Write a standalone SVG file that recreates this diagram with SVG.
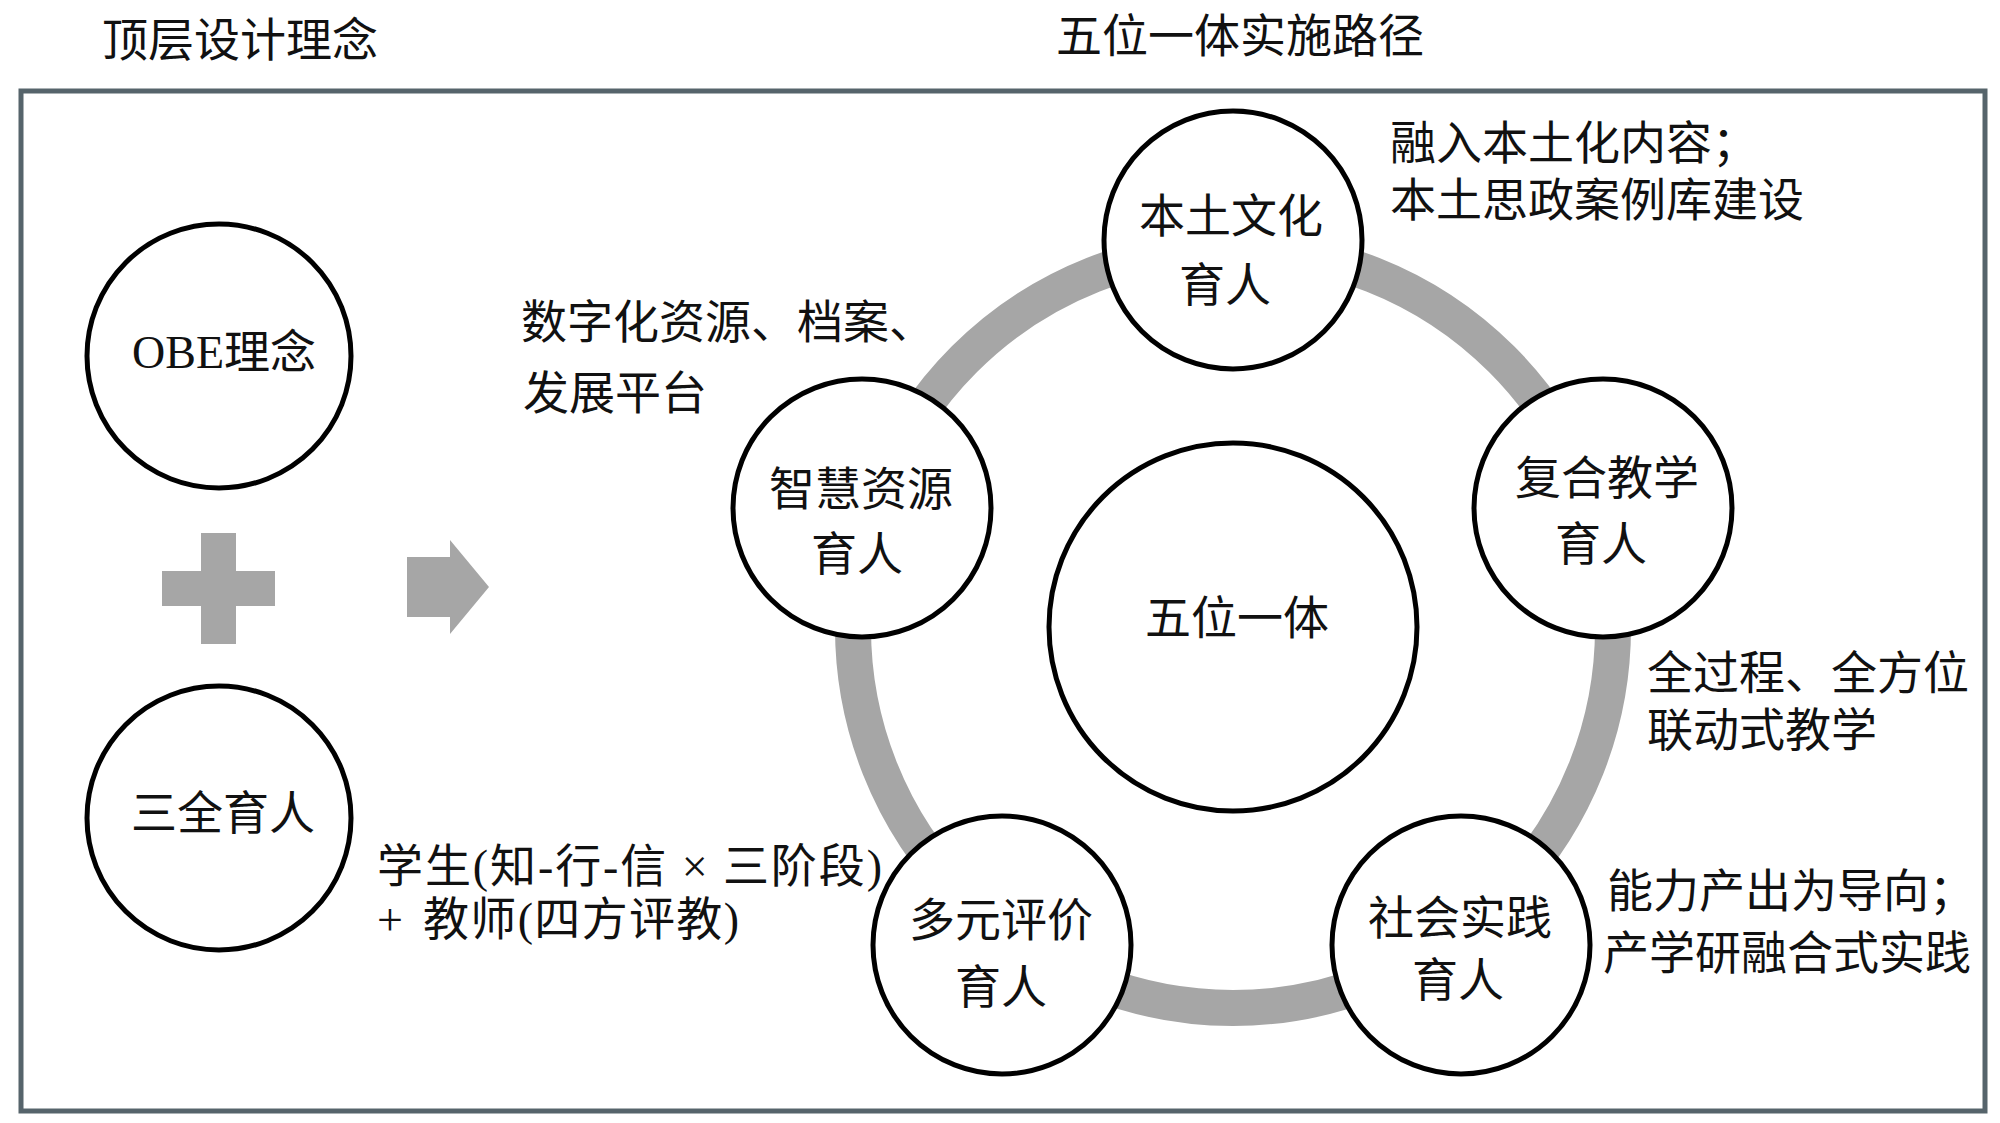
<svg xmlns="http://www.w3.org/2000/svg" width="2000" height="1123" viewBox="0 0 2000 1123">
<style>
  text { font-family: "Liberation Serif", "Noto Sans CJK SC", serif; font-size: 46px; fill: #111; }
  .mid { text-anchor: middle; }
  .node { fill: #ffffff; stroke: #000000; stroke-width: 5; }
  .shape { fill: #a6a6a6; }
  .ring { fill: none; stroke: #a6a6a6; stroke-width: 36; }
</style>
<rect x="0" y="0" width="2000" height="1123" fill="#ffffff"/>
<g id="titles">
  <text x="102" y="56">顶层设计理念</text>
  <text x="1056" y="52">五位一体实施路径</text>
</g>
<rect id="frame" x="21" y="91" width="1964" height="1020" fill="none" stroke="#56646b" stroke-width="5"/>
<g id="connectors">
  <circle class="ring" cx="1233" cy="628" r="380"/>
  <path class="shape" d="M201 533 H236 V571 H275 V606 H236 V644 H201 V606 H162 V571 H201 Z"/>
  <polygon class="shape" points="407,557 450,557 450,540 489,587 450,634 450,617 407,617"/>
</g>
<g id="node-obe">
  <circle class="node" cx="219" cy="356" r="132"/>
  <text class="mid" x="224" y="368">OBE理念</text>
</g>
<g id="node-sanquan">
  <circle class="node" cx="219" cy="818" r="132"/>
  <text class="mid" x="223" y="829">三全育人</text>
</g>
<g id="node-center">
  <circle class="node" cx="1233" cy="627" r="184"/>
  <text class="mid" x="1237" y="634">五位一体</text>
</g>
<g id="node-bentu">
  <circle class="node" cx="1233" cy="240" r="129"/>
  <text class="mid" x="1231" y="232">本土文化</text>
  <text class="mid" x="1225" y="301">育人</text>
</g>
<g id="node-zhihui">
  <circle class="node" cx="862" cy="508" r="129"/>
  <text class="mid" x="861" y="505">智慧资源</text>
  <text class="mid" x="857" y="570">育人</text>
</g>
<g id="node-fuhe">
  <circle class="node" cx="1603" cy="508" r="129"/>
  <text class="mid" x="1607" y="494">复合教学</text>
  <text class="mid" x="1601" y="560">育人</text>
</g>
<g id="node-duoyuan">
  <circle class="node" cx="1002" cy="945" r="129"/>
  <text class="mid" x="1001" y="936">多元评价</text>
  <text class="mid" x="1001" y="1003">育人</text>
</g>
<g id="node-shehui">
  <circle class="node" cx="1461" cy="945" r="129"/>
  <text class="mid" x="1460" y="934">社会实践</text>
  <text class="mid" x="1458" y="996">育人</text>
</g>
<g id="annotations">
  <text x="1390" y="159">融入本土化内容；</text>
  <text x="1390" y="216">本土思政案例库建设</text>
  <text x="521" y="338">数字化资源、档案、</text>
  <text x="523" y="409">发展平台</text>
  <text x="1647" y="689">全过程、全方位</text>
  <text x="1647" y="746">联动式教学</text>
  <text x="1607" y="907">能力产出为导向；</text>
  <text x="1603" y="969">产学研融合式实践</text>
  <text x="377" y="882" textLength="505">学生(知-行-信 × 三阶段)</text>
  <text x="377" y="935">+</text>
  <text x="423" y="935" textLength="316">教师(四方评教)</text>
</g>
</svg>
